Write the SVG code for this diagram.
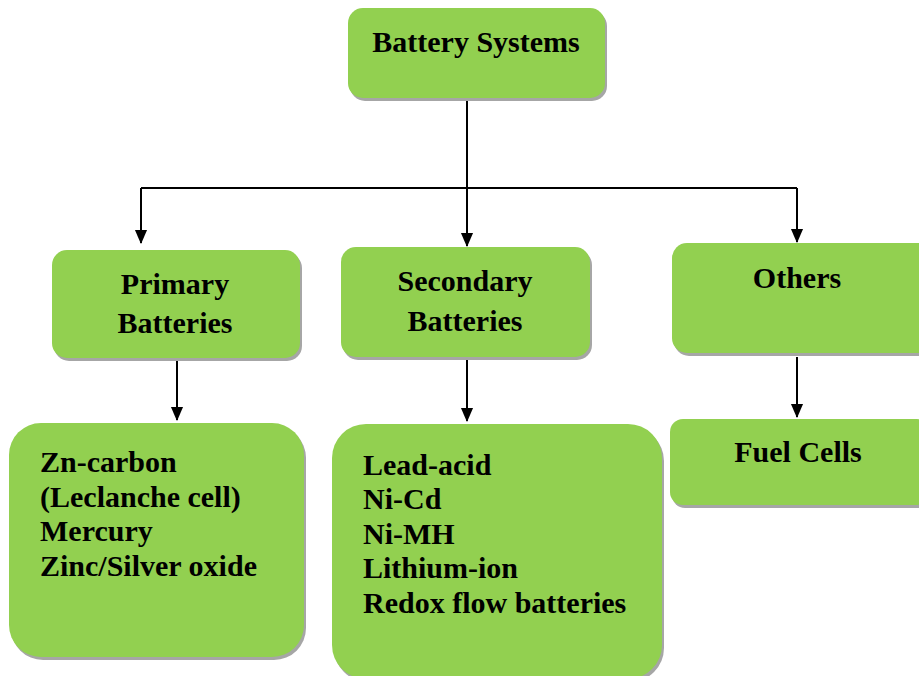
<svg xmlns="http://www.w3.org/2000/svg" width="919" height="676" viewBox="0 0 919 676">
<style>
.box{fill:#92D050}
.sh{fill:#a6a6a6}
.t{font-family:"Liberation Serif","Times New Roman",serif;font-weight:bold;font-size:30px;fill:#000}
.c{text-anchor:middle}
.ln{stroke:#000;stroke-width:2;fill:none}
</style>
<defs>
<marker id="ah" markerWidth="14" markerHeight="16" viewBox="0 0 16 14" refX="15" refY="7" orient="auto" markerUnits="userSpaceOnUse">
<path d="M0,0 L16,7 L0,14 z" fill="#000"/>
</marker>
</defs>
<g id="connectors">
<path class="ln" d="M467,99 V246" marker-end="url(#ah)"/>
<path class="ln" d="M141,188 H797"/>
<path class="ln" d="M141,188 V243" marker-end="url(#ah)"/>
<path class="ln" d="M797,188 V242" marker-end="url(#ah)"/>
<path class="ln" d="M177,361 V420" marker-end="url(#ah)"/>
<path class="ln" d="M467,360 V421" marker-end="url(#ah)"/>
<path class="ln" d="M797,357 V417" marker-end="url(#ah)"/>
</g>
<g id="battery-systems">
<rect class="sh" x="350" y="11" width="257" height="90" rx="15"/>
<rect class="box" x="348" y="8" width="257" height="90" rx="15"/>
<text class="t c" x="476" y="52">Battery Systems</text>
</g>
<g id="primary">
<rect class="sh" x="54" y="253" width="248" height="108" rx="15"/>
<rect class="box" x="52" y="250" width="248" height="108" rx="15"/>
<text class="t c" x="175" y="294">Primary</text>
<text class="t c" x="175" y="333">Batteries</text>
</g>
<g id="secondary">
<rect class="sh" x="343" y="250" width="249" height="110" rx="15"/>
<rect class="box" x="341" y="247" width="249" height="110" rx="15"/>
<text class="t c" x="465" y="291">Secondary</text>
<text class="t c" x="465" y="331">Batteries</text>
</g>
<g id="others">
<rect class="sh" x="674" y="246" width="260" height="110" rx="15"/>
<rect class="box" x="672" y="243" width="260" height="110" rx="15"/>
<text class="t c" x="797" y="288">Others</text>
</g>
<g id="fuel-cells">
<rect class="sh" x="672" y="422" width="260" height="86" rx="13"/>
<rect class="box" x="670" y="419" width="260" height="86" rx="13"/>
<text class="t c" x="798" y="462">Fuel Cells</text>
</g>
<g id="primary-list">
<rect class="sh" x="11" y="426" width="295" height="234" rx="32"/>
<rect class="box" x="9" y="423" width="295" height="234" rx="32"/>
<text class="t" x="40" y="472">Zn-carbon</text>
<text class="t" x="40" y="507">(Leclanche cell)</text>
<text class="t" x="40" y="541">Mercury</text>
<text class="t" x="40" y="576">Zinc/Silver oxide</text>
</g>
<g id="secondary-list">
<rect class="sh" x="334" y="427" width="330" height="255" rx="34"/>
<rect class="box" x="332" y="424" width="330" height="255" rx="34"/>
<text class="t" x="363" y="475">Lead-acid</text>
<text class="t" x="363" y="509">Ni-Cd</text>
<text class="t" x="363" y="544">Ni-MH</text>
<text class="t" x="363" y="578">Lithium-ion</text>
<text class="t" x="363" y="613">Redox flow batteries</text>
</g>
</svg>
